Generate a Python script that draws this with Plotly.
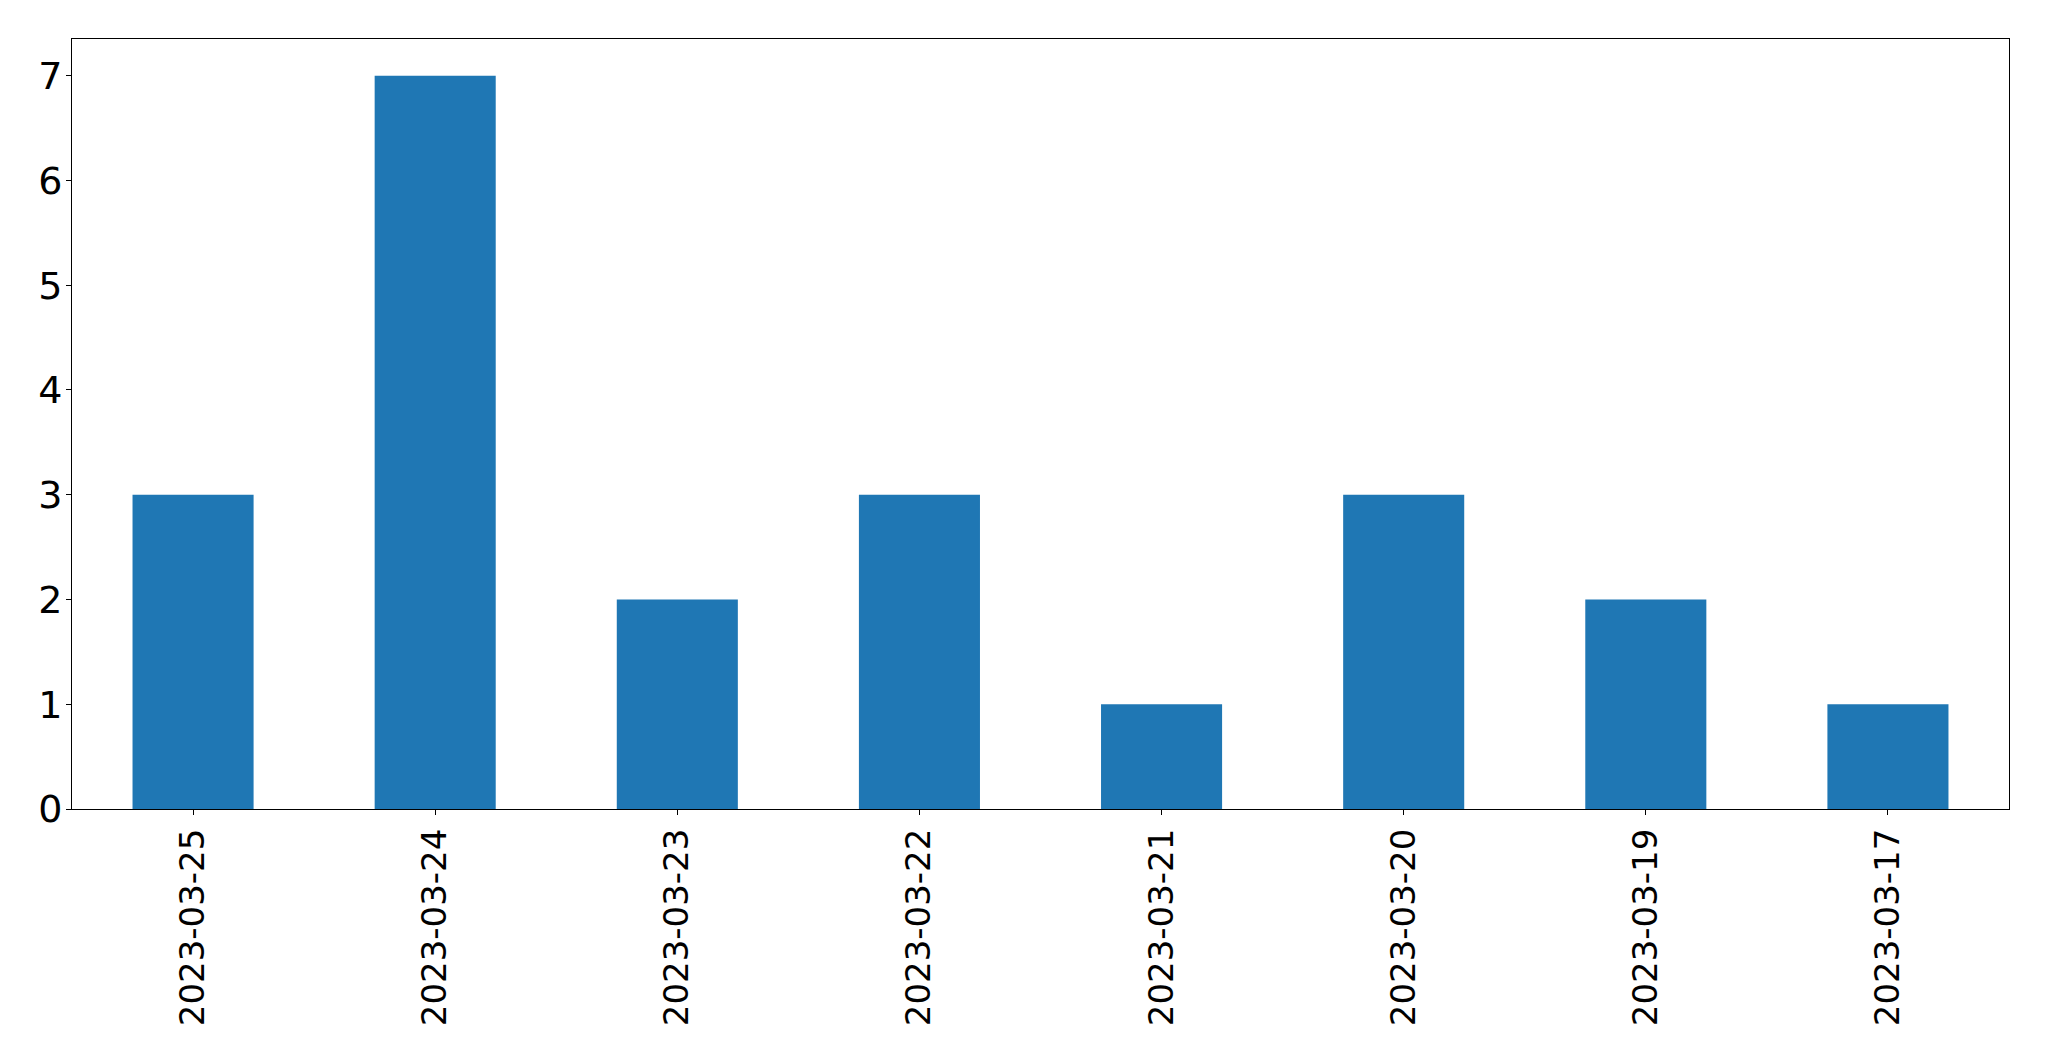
import plotly.graph_objects as go

dates = ["2023-03-25", "2023-03-24", "2023-03-23", "2023-03-22",
         "2023-03-21", "2023-03-20", "2023-03-19", "2023-03-17"]
counts = [3, 7, 2, 3, 1, 3, 2, 1]
y_ticks = [0, 1, 2, 3, 4, 5, 6, 7]

# page body has an 8px margin; size the figure to fit inside it
W, H = 2033, 1045
fig = go.Figure(go.Bar(
    x=list(range(len(dates))), y=counts,
    width=0.5, marker=dict(color="#1f77b4", line=dict(width=0)),
))

xfont = dict(family="DejaVu Sans", size=34, color="black")
yfont = dict(family="DejaVu Sans", size=38, color="black")
fig.update_layout(
    width=W, height=H,
    margin=dict(l=64, r=32, t=31, b=244, pad=0),
    paper_bgcolor="white", plot_bgcolor="white",
    showlegend=False,
    font=xfont,
)
fig.update_xaxes(
    range=[-0.5, 7.5],
    tickmode="array", tickvals=list(range(len(dates))), ticktext=dates,
    tickangle=-90, ticks="outside", ticklen=5, tickwidth=1.1, tickcolor="black",
    showline=True, linecolor="black", linewidth=1.1, mirror=True,
    showgrid=False, zeroline=False, tickfont=xfont,
)
fig.update_yaxes(
    range=[0, max(counts) * 1.05],
    tickmode="array", tickvals=y_ticks, ticktext=[str(v) for v in y_ticks],
    ticks="outside", ticklen=5, tickwidth=1.1, tickcolor="black",
    showline=True, linecolor="black", linewidth=1.1, mirror=True,
    showgrid=False, zeroline=False, tickfont=yfont,
    ticklabelstandoff=-4,
)
fig.write_html("out.html")
